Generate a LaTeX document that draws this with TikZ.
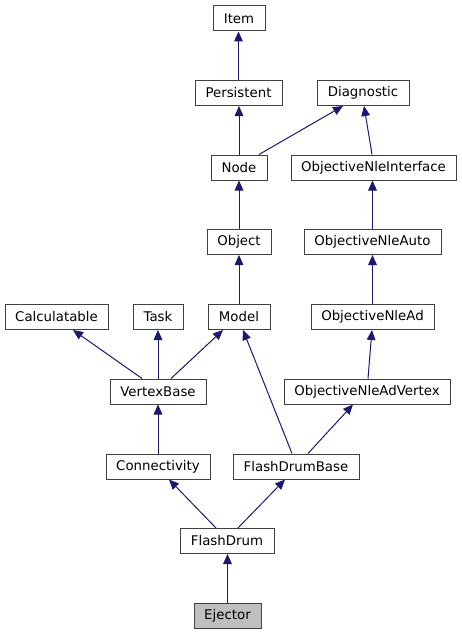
\documentclass[tikz,border=0pt]{standalone}
\usepackage{fontspec}
\setmainfont{DejaVu Sans}
\usetikzlibrary{arrows.meta}
\definecolor{edgeblue}{HTML}{191970}
\definecolor{boxline}{HTML}{404040}
\definecolor{curfill}{HTML}{BFBFBF}
\tikzset{
  cls/.style={draw=boxline, line width=0.75pt, fill=white, minimum height=18.75pt, inner sep=0pt, font=\fontsize{10pt}{12pt}\selectfont, text=black},
  cur/.style={cls, fill=curfill},
  inh/.style={draw=edgeblue, line width=0.75pt, -{Triangle[length=7.5pt,width=6.5pt]}, color=edgeblue}
}
\begin{document}
\begin{tikzpicture}[x=0.75pt,y=-0.75pt]
\useasboundingbox (0,0) rectangle (461,635);
\node[cls, minimum width=39pt] (item) at (239,18.5) {Item};
\node[cls, minimum width=65.25pt] (pers) at (238.5,93) {Persistent};
\node[cls, minimum width=69pt] (diag) at (363,93) {Diagnostic};
\node[cls, minimum width=42pt] (node) at (239,167.5) {Node};
\node[cls, minimum width=123.75pt] (oni) at (373.5,167.5) {ObjectiveNleInterface};
\node[cls, minimum width=48pt] (obj) at (239,242) {Object};
\node[cls, minimum width=102.75pt] (onauto) at (372.5,242) {ObjectiveNleAuto};
\node[cls, minimum width=77.25pt] (calc) at (56.5,317) {Calculatable};
\node[cls, minimum width=37.5pt] (task) at (158,317) {Task};
\node[cls, minimum width=46.5pt] (model) at (239,317) {Model};
\node[cls, minimum width=92.25pt] (onad) at (372.5,317) {ObjectiveNleAd};
\node[cls, minimum width=72pt] (vb) at (158,391.5) {VertexBase};
\node[cls, minimum width=124.5pt] (onav) at (367,391.5) {ObjectiveNleAdVertex};
\node[cls, minimum width=78pt] (conn) at (158,466.5) {Connectivity};
\node[cls, minimum width=94.5pt] (fdb) at (296,466.5) {FlashDrumBase};
\node[cls, minimum width=70.5pt] (fd) at (227,541) {FlashDrum};
\node[cur, minimum width=50.25pt] (ej) at (227.5,616) {Ejector};

\draw[inh] (pers.north) -- (pers.north |- item.south);
\draw[inh] (node.north) -- (node.north |- pers.south);
\draw[inh] ([xshift=15pt]node.north) -- ([xshift=-15pt]diag.south);
\draw[inh] ([xshift=-1.1pt]oni.north) -- ([xshift=0.75pt]diag.south);
\draw[inh] (obj.north) -- (obj.north |- node.south);
\draw[inh] (model.north) -- (model.north |- obj.south);
\draw[inh] (onauto.north) -- (onauto.north |- oni.south);
\draw[inh] (onad.north) -- (onad.north |- onauto.south);
\draw[inh] ([xshift=0.75pt]onav.north) -- ([xshift=-0.4pt]onad.south);
\draw[inh] ([xshift=-12pt]vb.north) -- ([xshift=12.4pt]calc.south);
\draw[inh] (vb.north) -- (vb.north |- task.south);
\draw[inh] ([xshift=9.75pt]vb.north) -- ([xshift=-12pt]model.south);
\draw[inh] (conn.north) -- (conn.north |- vb.south);
\draw[inh] ([xshift=-3pt]fdb.north) -- ([xshift=3pt]model.south);
\draw[inh] ([xshift=9pt]fdb.north) -- ([xshift=-10.5pt]onav.south);
\draw[inh] ([xshift=-8.25pt]fd.north) -- ([xshift=8.25pt]conn.south);
\draw[inh] ([xshift=8.25pt]fd.north) -- ([xshift=-8.25pt]fdb.south);
\draw[inh] (ej.north) -- (ej.north |- fd.south);
\end{tikzpicture}
\end{document}
